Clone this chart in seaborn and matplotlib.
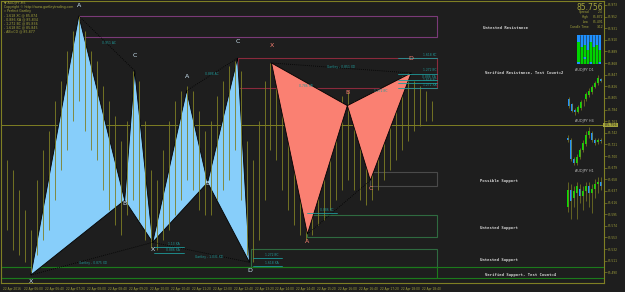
import numpy as np
import matplotlib
matplotlib.use("Agg")
import matplotlib.pyplot as plt
import seaborn as sns
from matplotlib.patches import Rectangle
from matplotlib.colors import ListedColormap

# ---------------- data ----------------
symbol_lines = ["\u25bc AUDJPY,M5",
                "Copyright \u00a9 http://www.gartleytrading.com",
                "\u00bb Perfect Gartley",
                "- 1.618 XC @ 85.874",
                "- 0.886 XA @ 85.834",
                "- 1.272 BC @ 85.836",
                "- 1.618 BC @ 85.845",
                "- AB=CD @ 85.877"]

time_labels = ["22 Apr 2016", "22 Apr 06:00", "22 Apr 06:40", "22 Apr 07:20", "22 Apr 08:00",
               "22 Apr 08:40", "22 Apr 09:20", "22 Apr 10:00", "22 Apr 10:40", "22 Apr 11:20",
               "22 Apr 12:00", "22 Apr 12:40", "22 Apr 13:20", "22 Apr 14:00", "22 Apr 14:40",
               "22 Apr 15:20", "22 Apr 16:00", "22 Apr 16:40", "22 Apr 17:20", "22 Apr 18:00",
               "22 Apr 18:40"]

bar_high = [85.692, 85.674, 85.638, 85.602, 85.566, 85.656, 85.710, 85.746, 85.800, 85.836,
            85.890, 85.926, 85.953, 85.926, 85.890, 85.872, 85.827, 85.800, 85.773, 85.728,
            85.764, 85.854, 85.836, 85.764, 85.674, 85.656, 85.710, 85.764, 85.800, 85.818,
            85.827, 85.818, 85.782, 85.746, 85.764, 85.809, 85.836, 85.863, 85.872, 85.854,
            85.728, 85.692, 85.764, 85.836, 85.868, 85.845, 85.818, 85.782, 85.746, 85.710,
            85.674, 85.692, 85.728, 85.746, 85.782, 85.800, 85.809, 85.818, 85.800, 85.782,
            85.755, 85.746, 85.782, 85.800, 85.818, 85.836, 85.845, 85.850, 85.836, 85.827,
            85.818, 85.800]
bar_low = [85.566, 85.530, 85.521, 85.508, 85.490, 85.521, 85.548, 85.566, 85.620, 85.674,
           85.710, 85.764, 85.800, 85.746, 85.710, 85.692, 85.638, 85.602, 85.575, 85.557,
           85.593, 85.620, 85.584, 85.548, 85.534, 85.530, 85.548, 85.566, 85.593, 85.620,
           85.656, 85.638, 85.602, 85.593, 85.593, 85.620, 85.638, 85.656, 85.710, 85.620,
           85.521, 85.508, 85.548, 85.620, 85.710, 85.692, 85.638, 85.602, 85.575, 85.557,
           85.548, 85.557, 85.575, 85.584, 85.602, 85.620, 85.638, 85.656, 85.638, 85.620,
           85.611, 85.620, 85.638, 85.656, 85.674, 85.692, 85.710, 85.728, 85.746, 85.755,
           85.764, 85.764]

point_names = ["X", "A", "B", "C", "D"]
blue1_x = [30, 78, 124, 134, 152]
blue1_p = [85.485, 85.953, 85.620, 85.854, 85.544]
blue2_x = [152, 186, 207, 237, 249]
blue2_p = [85.544, 85.818, 85.652, 85.877, 85.508]
red_x = [271, 307, 347, 370, 411]
red_p = [85.868, 85.559, 85.791, 85.656, 85.850]

zone_names = ["Untested Resistance", "Verified Resistance, Test Count=2", "Possible Support",
              "Untested Support", "Untested Support", "Verified Support, Test Count=4"]
zone_top = [85.953, 85.877, 85.672, 85.593, 85.532, 85.499]
zone_bot = [85.915, 85.822, 85.645, 85.553, 85.499, 85.480]
zone_start = [78, 237, 370, 307, 250, 0]

fib_names = ["1.618 XC", "1.272 BC", "0.886 XA", "1.618 BC", "1.272 XA",
             "1.272 BC", "1.618 XA", "1.13 XA", "0.886 XA", "0.886 XC"]
fib_price = [85.877, 85.849, 85.838, 85.831, 85.823, 85.516, 85.501, 85.535, 85.525, 85.597]
fib_x0 = [398, 398, 398, 398, 398, 252, 252, 153, 153, 307]

current_price = 85.756
info_names = ["Spread", "High", "Low", "Candle Time"]
info_values = ["2.4", "85.872", "85.491", "3:12"]

heat = [[0, 0, 0, 0, 0, 0, 0, 0],
        [0, 0, 0, 0, 0, 0, 0, 0],
        [0, 0, 0, 0, 0, 0, 0, 0],
        [1, 0, 0, 0, 1, 0, 0, 0],
        [1, 0, 1, 0, 1, 0, 1, 0],
        [1, 1, 1, 0, 1, 1, 1, 0],
        [1, 1, 1, 1, 1, 1, 1, 1],
        [1, 1, 1, 1, 1, 1, 1, 1],
        [1, 1, 1, 1, 1, 1, 1, 1],
        [1, 1, 0, 1, 1, 1, 1, 1],
        [1, 1, 1, 1, 1, 1, 1, 1],
        [0, 1, 1, 1, 0, 1, 1, 0]]

d1_o = [50, 44, 38, 36, 40, 46, 50, 55, 58, 64, 68, 72]
d1_c = [42, 37, 35, 41, 47, 45, 56, 59, 64, 68, 74, 70]
d1_h = [52, 46, 40, 43, 49, 50, 58, 62, 66, 70, 77, 74]
d1_l = [40, 35, 32, 34, 38, 42, 48, 52, 56, 62, 66, 69]
h4_o = [60, 58, 40, 36, 42, 48, 54, 62, 64, 58, 56, 58]
h4_c = [58, 40, 36, 42, 48, 55, 62, 66, 58, 55, 58, 57]
h4_h = [62, 60, 42, 44, 50, 58, 66, 70, 66, 60, 60, 60]
h4_l = [56, 38, 34, 34, 40, 46, 52, 60, 56, 53, 54, 55]
h1_o = [40, 55, 48, 52, 56, 50, 54, 58, 52, 56, 60, 62]
h1_c = [55, 45, 54, 58, 50, 54, 58, 52, 56, 60, 62, 58]
h1_h = [62, 60, 58, 62, 60, 58, 62, 62, 60, 64, 66, 66]
h1_l = [36, 30, 40, 30, 44, 38, 45, 40, 35, 48, 52, 55]

# ---------------- style ----------------
sns.set_theme(style="dark")
BG = "#1e1e1e"
OLIVE = "#7f7f24"
OLIVE_T = "#a5a53c"
TEAL = "#1f9a9a"
plt.rcParams["font.family"] = ["DejaVu Sans"]
plt.rcParams["axes.facecolor"] = BG
plt.rcParams["figure.facecolor"] = BG
plt.rcParams["patch.force_edgecolor"] = False

W, H = 625, 292
fig = plt.figure(figsize=(6.25, 2.92), dpi=100)
fig.patch.set_facecolor(BG)

ax = fig.add_axes([0.0015, (H - 283) / H, 603 / W, 282 / H])
ax.set_facecolor(BG)
ax.set_xlim(0, 604)
ax.set_ylim(85.98 - 283 * 0.0018, 85.98)
ax.grid(False)
for s in ax.spines.values():
    s.set_color(OLIVE)
    s.set_linewidth(0.8)

# zones
zone_colors = ["#7a3a78", "#8a2a3c", "#4a4a4a", "#2f6a40", "#2f6a40", "#1c7a1c"]
for n, t, b, x0, c in zip(zone_names, zone_top, zone_bot, zone_start, zone_colors):
    ax.add_patch(Rectangle((x0, b), 437 - x0, t - b, fill=False, ec=c, lw=0.8, zorder=1))
ax.axhline(zone_top[5], color="#1c7a1c", lw=0.8, zorder=1)
ax.axhline(zone_bot[5], color="#1c7a1c", lw=0.8, zorder=1)

# current price line
ax.axhline(current_price, color=OLIVE, lw=0.7, zorder=1)

# price bars
bar_x = np.arange(6, 6 * len(bar_high) + 1, 6)
ax.vlines(bar_x, bar_low, bar_high, color=OLIVE, lw=0.6, zorder=3)

# patterns
def draw_pattern(xs, ps, color, lab_color, offsets, z):
    ax.fill([xs[0], xs[1], xs[2]], [ps[0], ps[1], ps[2]], color=color, ec="black", lw=0.6, zorder=z)
    ax.fill([xs[2], xs[3], xs[4]], [ps[2], ps[3], ps[4]], color=color, ec="black", lw=0.6, zorder=z)
    for (i, j) in [(0, 4), (1, 3)]:
        sns.lineplot(x=[xs[i], xs[j]], y=[ps[i], ps[j]], ax=ax, color="black",
                     lw=0.6, linestyle=(0, (1, 1.5)), zorder=4)
    for k, name in enumerate(point_names):
        if offsets[k] is None:
            continue
        dx, dp = offsets[k]
        ax.text(xs[k] + dx, ps[k] + dp, name, color=lab_color, fontsize=4.5,
                ha="center", va="center", zorder=6)

draw_pattern(blue1_x, blue1_p, "#87cefa", "#cfe8f7",
             [(0, -0.011), (0, 0.019), (0, -0.005), (0, 0.028), None], 2)
draw_pattern(blue2_x, blue2_p, "#87cefa", "#cfe8f7",
             [(0, -0.013), (0, 0.025), (0, -0.002), (0, 0.029), (0, -0.014)], 2)
draw_pattern(red_x, red_p, "#fa8072", "#fa8072",
             [(0, 0.032), (0, -0.013), (0, 0.023), (0, -0.014), (0, 0.027)], 3.5)

# dotted-line labels
mid_labels = [("0.951 AC", 108, 85.904), ("Gartley - 0.875 XD", 92, 85.507),
              ("0.888 AC", 211, 85.849), ("Gartley - 1.031 XD", 208, 85.518),
              ("Gartley - 0.851 XD", 341, 85.861), ("0.786 XB", 305, 85.827),
              ("1.272 BC", 380, 85.818)]
for t, x, p in mid_labels:
    ax.text(x, p, t, color=TEAL, fontsize=2.2, ha="center", va="center", zorder=5)

# fib lines
for n, p, x0 in zip(fib_names, fib_price, fib_x0):
    ax.plot([x0, x0 + 30 if x0 < 398 else 437], [p, p], color=TEAL, lw=0.6, zorder=4)
    ax.text(x0 + 26 if x0 < 398 else 436, p + 0.002, n, color=TEAL, fontsize=2.2,
            ha="right", va="bottom", zorder=5)

# axes ticks
ax.set_xticks(np.arange(2, 2 + 21 * len(time_labels), 21))
ax.set_xticklabels(time_labels, fontsize=2.1, color=OLIVE_T, ha="left")
price_ticks = np.arange(85.973, 85.47, -0.021)
ax.yaxis.tick_right()
ax.set_yticks(price_ticks)
ax.set_yticklabels([f"{v:.3f}" for v in price_ticks], fontsize=2.1, color=OLIVE_T)
ax.tick_params(axis="both", colors=OLIVE, length=2, width=0.5, pad=1)
for lbl in ax.get_xticklabels():
    lbl.set_color(OLIVE_T)
for lbl in ax.get_yticklabels():
    lbl.set_color(OLIVE_T)
ax.text(1.0, current_price, f" {current_price:.3f} ", transform=ax.get_yaxis_transform(),
        fontsize=2.3, color="#1e1e1e", va="center", ha="left",
        bbox=dict(boxstyle="square,pad=0.15", fc="#a5a53c", ec="none"), zorder=10)

# ---------------- overlay (pixel coordinates) ----------------
ov = fig.add_axes([0, 0, 1, 1])
ov.set_xlim(0, W)
ov.set_ylim(H, 0)
ov.axis("off")
ov.patch.set_alpha(0)

for i, t in enumerate(symbol_lines):
    ov.text(4, 3 + i * 4.1, t, fontsize=2.3, color=OLIVE_T, va="center", ha="left")

zone_lab_xy = [(483, 28), (485, 73), (480, 181), (480, 228), (480, 260), (485, 275)]
for n, (x, y) in zip(zone_names, zone_lab_xy):
    ov.text(x, y, n, fontsize=2.8, color="#d8d8d8", family="DejaVu Sans Mono",
            fontweight="bold", va="center", ha="left")

ov.text(603, 7, f"{current_price:.3f}", fontsize=5.5, color=OLIVE_T, ha="right", va="center")
for i, (n, v) in enumerate(zip(info_names, info_values)):
    ov.text(589, 12 + i * 5, n, fontsize=2.2, color=OLIVE_T, ha="right", va="center")
    ov.text(603, 12 + i * 5, v, fontsize=2.2, color=OLIVE_T, ha="right", va="center")

for lab, y in [("AUDJPY D1", 70), ("AUDJPY H4", 121), ("AUDJPY H1", 171)]:
    ov.text(584, y, lab, fontsize=2.5, color="#b8b8b8", ha="center", va="center")

# heatmap panel
def px_axes(x0, y0, w, h):
    return fig.add_axes([x0 / W, 1 - (y0 + h) / H, w / W, h / H])

hax = px_axes(577, 35, 24, 29)
sns.heatmap(np.array(heat), ax=hax, cmap=ListedColormap(["#1e90ff", "#00d400"]), cbar=False,
            vmin=0, vmax=1, xticklabels=False, yticklabels=False, linewidths=0)
for k in range(1, 8):
    hax.axvline(k, color="#202020", lw=0.4)
hax.axis("off")

def mini(x0, y0, w, h, o, c, hi, lo):
    m = px_axes(x0, y0, w, h)
    m.set_facecolor("none")
    m.patch.set_alpha(0)
    m.axis("off")
    xs = np.arange(len(o))
    m.vlines(xs, lo, hi, color=OLIVE, lw=0.5)
    cols = ["#00e000" if cc >= oo else "#1e90ff" for oo, cc in zip(o, c)]
    m.bar(xs, np.array(c) - np.array(o), bottom=o, color=cols, width=0.7,
          edgecolor="none", linewidth=0)
    m.set_xlim(-0.7, len(o) - 0.3)
    m.set_ylim(min(lo) - 1, max(hi) + 1)

mini(567, 74, 36, 42, d1_o, d1_c, d1_h, d1_l)
mini(566, 126, 37, 40, h4_o, h4_c, h4_h, h4_l)
mini(566, 176, 37, 44, h1_o, h1_c, h1_h, h1_l)

fig.savefig("out.png", dpi=100, facecolor=BG)
